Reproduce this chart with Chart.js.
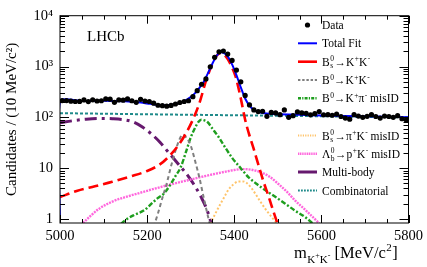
<!DOCTYPE html>
<html><head><meta charset="utf-8">
<script src="https://cdn.jsdelivr.net/npm/chart.js@4/dist/chart.umd.min.js"></script>
<style>html,body{margin:0;padding:0;background:#fff}canvas{display:block}</style>
</head><body>
<canvas id="c" width="427" height="267"></canvas>
<script>
// ---------- data ----------
const binCenters = [5005,5015,5025,5035,5045,5055,5065,5075,5085,5095,
  5105,5115,5125,5135,5145,5155,5165,5175,5185,5195,
  5205,5215,5225,5235,5245,5255,5265,5275,5285,5295,
  5305,5315,5325,5335,5345,5355,5365,5375,5385,5395,
  5405,5415,5425,5435,5445,5455,5465,5475,5485,5495,
  5505,5515,5525,5535,5545,5555,5565,5575,5585,5595,
  5605,5615,5625,5635,5645,5655,5665,5675,5685,5695,
  5705,5715,5725,5735,5745,5755,5765,5775,5785,5795];
const dataCounts = [214,214,208,205,206,220,204,221,210,212,
  230,228,198,220,218,230,212,198,226,210,
  205,190,173,170,166,172,183,196,205,212,
  255,335,448,570,990,1520,1950,2020,1760,1320,
  850,500,270,176,140,130,132,105,125,122,
  113,140,100,108,128,122,120,112,118,130,
  112,113,110,116,104,97,92,113,106,100,
  105,113,104,97,106,104,100,108,94,89];

const totalMass = [5000,5000,5050,5100,5150,5180,5200,5220,5240,5260,5280,5300,5310,5320,5330,5340,5350,5360,5368,5375,5385,5395,5405,5415,5425,5435,5445,5460,5480,5500,5550,5600,5700,5800];
const totalVal  = [0.8,205,211,213,207,198,188,178,174,180,198,250,300,380,500,750,1150,1650,1900,1870,1580,1100,680,390,235,170,140,125,118,115,112,109,105,101];

const bsKKMass = [5000,5040,5080,5120,5160,5200,5230,5250,5270,5290,5305,5320,5335,5350,5360,5368,5375,5385,5395,5403,5414,5425,5433,5444,5455,5467,5480,5490,5502];
const bsKKVal  = [2.7,3.6,4.4,5.4,6.8,8.8,12,17,27,50,90,190,520,1150,1650,1830,1750,1400,950,640,260,90,50,25,12,5.5,2.6,1.4,0.7];

const b0KKMass = [5215,5225,5235,5245,5255,5265,5275,5282,5290,5300,5310,5320,5330,5340,5350];
const b0KKVal  = [0.7,1.3,2.6,5,11,22,38,46,40,28,14,6.5,2.6,1.1,0.5];

const b0KpiMass = [5140,5150,5170,5194,5210,5225,5239,5255,5265,5277,5290,5300,5310,5318,5324,5330,5338,5350,5365,5380,5395,5415,5433,5450,5471,5495,5517,5540,5562,5580];
const b0KpiVal  = [0.8,0.95,1.2,1.5,2.0,2.6,3.2,5,7,10.4,22,40,62,82,90,88,82,60,40,25,16,10,6.6,5,3.7,2.7,2.0,1.45,1.1,0.82];

const bsPiKMass = [5345,5355,5365,5376,5387,5398,5410,5420,5430,5440,5450,5460,5471,5482,5494,5505];
const bsPiKVal  = [0.8,1.2,1.75,2.6,3.8,4.8,5.5,5.5,5.0,4.0,3.0,2.2,1.6,1.2,0.9,0.7];

const lbPKMass = [5053,5070,5090,5120,5150,5180,5210,5250,5290,5330,5370,5400,5420,5440,5460,5480,5500,5520,5540,5560,5580,5595];
const lbPKVal  = [0.83,1.15,1.6,2.2,2.7,3.2,3.8,4.7,5.7,6.9,8.2,9.2,9.6,9.3,8.4,6.9,5.0,3.5,2.3,1.6,1.1,0.82];

const multiMass = [5000,5030,5060,5090,5120,5150,5170,5190,5210,5230,5250,5270,5290,5310,5325,5335,5345,5352];
const multiVal  = [78,86,92,95,94,89,80,64,47,32,20,12.5,7.8,4.4,2.6,1.7,0.95,0.5];

const combMass = [5000,5200,5400,5600,5800];
const combVal  = [121,115,110,105,100];

const xTicks = [5000,5200,5400,5600,5800];
const xTickLabels = ['5000','5200','5400','5600','5800'];
const yTicks = [1,10,100,1000,10000];
const yTickLabels = ['1','10','10\u00B2','10\u00B3','10\u2074'];

// ---------- styles ----------
const SERIF = '"Liberation Serif","Times New Roman",serif';
const pts = (m,v) => m.map((x,i)=>({x:x,y:v[i]}));
function curve(label, m, v, color, width, dash, extra){
  return Object.assign({label, data: pts(m,v), borderColor: color, backgroundColor: color,
    borderWidth: width, borderDash: dash, pointRadius: 0, fill:false,
    cubicInterpolationMode:'monotone', clip: 0}, extra||{});
}
const datasets = [
  {label:'Data', data: pts(binCenters, dataCounts), showLine:false, pointRadius:2.6,
   pointBackgroundColor:'#000', pointBorderColor:'#000', pointBorderWidth:0, order:0, clip:0},
  curve('Total Fit', totalMass, totalVal, '#0000ff', 2, [], {tension:0.25, cubicInterpolationMode:'default', order:1}),
  curve('Bs->KK', bsKKMass, bsKKVal, '#ff0000', 2.6, [10,5], {order:2}),
  curve('B0->KK', b0KKMass, b0KKVal, '#7f7f7f', 2, [4,3], {order:3}),
  curve('B0->Kpi', b0KpiMass, b0KpiVal, '#1e9e1e', 2.4, [5,2,2,2], {order:4}),
  curve('Bs->piK', bsPiKMass, bsPiKVal, '#ffc46a', 2, [2,2], {order:5}),
  curve('Lb->pK', lbPKMass, lbPKVal, '#ff66dd', 2.4, [2,1], {order:6}),
  curve('Multi-body', multiMass, multiVal, '#66196e', 3, [12,5,3,5], {order:7}),
  curve('Combinatorial', combMass, combVal, '#1f8a8a', 2, [3,2], {order:8})
];

function drawRich(ctx, parts, x, y, size){
  ctx.textBaseline='alphabetic'; ctx.textAlign='left';
  for(const [t,k] of parts){
    if(k==='n'){ctx.font=size+'px '+SERIF; ctx.fillText(t,x,y); x+=ctx.measureText(t).width;}
    else if(k==='sup'){ctx.font=(size*0.65)+'px '+SERIF; ctx.fillText(t,x+0.5,y-size*0.38); x+=ctx.measureText(t).width+0.5;}
    else if(k==='sub'){ctx.font=(size*0.65)+'px '+SERIF; ctx.fillText(t,x+0.5,y+size*0.22); x+=ctx.measureText(t).width+0.5;}
    else if(k==='ss'){const [a,b]=t.split('|'); ctx.font=(size*0.65)+'px '+SERIF;
      ctx.fillText(a,x+0.5,y-size*0.38); ctx.fillText(b,x+0.5,y+size*0.24);
      x+=Math.max(ctx.measureText(a).width,ctx.measureText(b).width)+1;}
  }
  return x;
}

const legendEntries = [
  {ds:0, y:25, parts:[['Data','n']]},
  {ds:1, y:43.3, parts:[['Total Fit','n']]},
  {ds:2, y:61.7, dash:[], parts:[['B','n'],['0|s','ss'],['\u2192K','n'],['+','sup'],['K','n'],['-','sup']]},
  {ds:3, y:80, parts:[['B','n'],['0','sup'],['\u2192K','n'],['+','sup'],['K','n'],['-','sup']]},
  {ds:4, y:98.3, parts:[['B','n'],['0','sup'],['\u2192K','n'],['+','sup'],['\u03C0','n'],['-','sup'],[' misID','n']]},
  {ds:5, y:135.5, parts:[['B','n'],['0|s','ss'],['\u2192\u03C0','n'],['+','sup'],['K','n'],['-','sup'],[' misID','n']]},
  {ds:6, y:153.8, parts:[['\u039B','n'],['0|b','ss'],['\u2192p','n'],['+','sup'],['K','n'],['-','sup'],[' misID','n']]},
  {ds:7, y:172, dash:[], parts:[['Multi-body','n']]},
  {ds:8, y:190.5, parts:[['Combinatorial','n']]}
];

const decor = {
  id:'decor',
  afterDatasetsDraw(chart){
    const {ctx, chartArea:a, scales:{x,y}} = chart;
    ctx.save();
    ctx.strokeStyle='#000'; ctx.lineWidth=1; ctx.setLineDash([]);
    ctx.strokeRect(a.left, a.top, a.right-a.left, a.bottom-a.top);
    ctx.beginPath();
    for(let v=5000; v<=5800; v+=50){
      const px=Math.round(x.getPixelForValue(v))+0.5;
      const L = (v%200===0)?8:4;
      ctx.moveTo(px,a.bottom); ctx.lineTo(px,a.bottom-L);
      ctx.moveTo(px,a.top); ctx.lineTo(px,a.top+L);
    }
    for(let d=1; d<=10000; d*=10){
      for(let k=1;k<=9;k++){
        const v=d*k; if(v<y.min||v>y.max) continue;
        if(d===10000 && k>1) continue;
        const py=Math.round(y.getPixelForValue(v))+0.5;
        const L = k===1?9:5;
        ctx.moveTo(a.left,py); ctx.lineTo(a.left+L,py);
        ctx.moveTo(a.right,py); ctx.lineTo(a.right-L,py);
      }
    }
    ctx.stroke();

    // LHCb label
    ctx.fillStyle='#000';
    ctx.font='15px '+SERIF; ctx.textAlign='left'; ctx.textBaseline='middle';
    ctx.fillText('LHCb', 87, 37);

    // legend
    const lx0=298, lx1=317, tx=322, fs=11.5;
    for(const e of legendEntries){
      const ds = chart.data.datasets[e.ds];
      if(e.ds===0){
        ctx.beginPath(); ctx.fillStyle='#000'; ctx.arc((lx0+lx1)/2, e.y, 2.6, 0, Math.PI*2); ctx.fill();
      } else {
        ctx.beginPath(); ctx.strokeStyle=ds.borderColor; ctx.lineWidth=ds.borderWidth;
        ctx.setLineDash(e.dash? e.dash : (ds.borderDash||[]).map(d=>d*0.6));
        ctx.moveTo(lx0,e.y); ctx.lineTo(lx1,e.y); ctx.stroke(); ctx.setLineDash([]);
      }
      ctx.fillStyle='#000';
      drawRich(ctx, e.parts, tx, e.y+4, fs);
    }

    // x axis title
    const fs2=16.5;
    let xx = 294;
    ctx.textBaseline='alphabetic'; ctx.textAlign='left';
    ctx.font=fs2+'px '+SERIF;
    ctx.fillText('m', xx, 258); xx += ctx.measureText('m').width+0.5;
    const sfs=11;
    ctx.font=sfs+'px '+SERIF; ctx.fillText('K', xx, 263); xx+=ctx.measureText('K').width;
    ctx.font='8px '+SERIF; ctx.fillText('+', xx, 258); xx+=ctx.measureText('+').width;
    ctx.font=sfs+'px '+SERIF; ctx.fillText('K', xx, 263); xx+=ctx.measureText('K').width;
    ctx.font='8px '+SERIF; ctx.fillText('-', xx, 258); xx+=ctx.measureText('-').width;
    ctx.font=fs2+'px '+SERIF; ctx.fillText(' [MeV/c', xx, 258); xx+=ctx.measureText(' [MeV/c').width;
    ctx.font='11px '+SERIF; ctx.fillText('2', xx+0.5, 251); xx+=ctx.measureText('2').width+1;
    ctx.font=fs2+'px '+SERIF; ctx.fillText(']', xx, 258);
    ctx.restore();
  }
};

new Chart(document.getElementById('c'), {
  type:'line',
  data:{datasets},
  options:{
    responsive:false, animation:false, devicePixelRatio:1,
    layout:{padding:{left:0,right:17,top:13,bottom:0}},
    plugins:{legend:{display:false}, tooltip:{enabled:false}},
    scales:{
      x:{type:'linear', min:5000, max:5800,
        grid:{display:false, drawTicks:false}, border:{display:false},
        afterBuildTicks:s=>{s.ticks = xTicks.map(v=>({value:v}));},
        afterFit:s=>{s.height=44;},
        ticks:{color:'#000', padding:4, maxRotation:0, autoSkip:false, font:{family:SERIF, size:14.5},
          callback:(v)=>{const i=xTicks.indexOf(v); return i>=0? xTickLabels[i] : '';}}
      },
      y:{type:'logarithmic', min:0.835, max:10000,
        grid:{display:false, drawTicks:false}, border:{display:false},
        afterBuildTicks:s=>{s.ticks = yTicks.map(v=>({value:v}));},
        afterFit:s=>{s.width=60;},
        ticks:{color:'#000', padding:7, autoSkip:false, font:{family:SERIF, size:14.5},
          callback:(v)=>{const i=yTicks.indexOf(v); return i>=0? yTickLabels[i] : '';}},
        title:{display:true, text:'Candidates / (10 MeV/c\u00B2)', color:'#000',
          font:{family:SERIF, size:15}, padding:{top:3.5,bottom:0}}
      }
    }
  },
  plugins:[decor]
});
</script>
</body></html>
